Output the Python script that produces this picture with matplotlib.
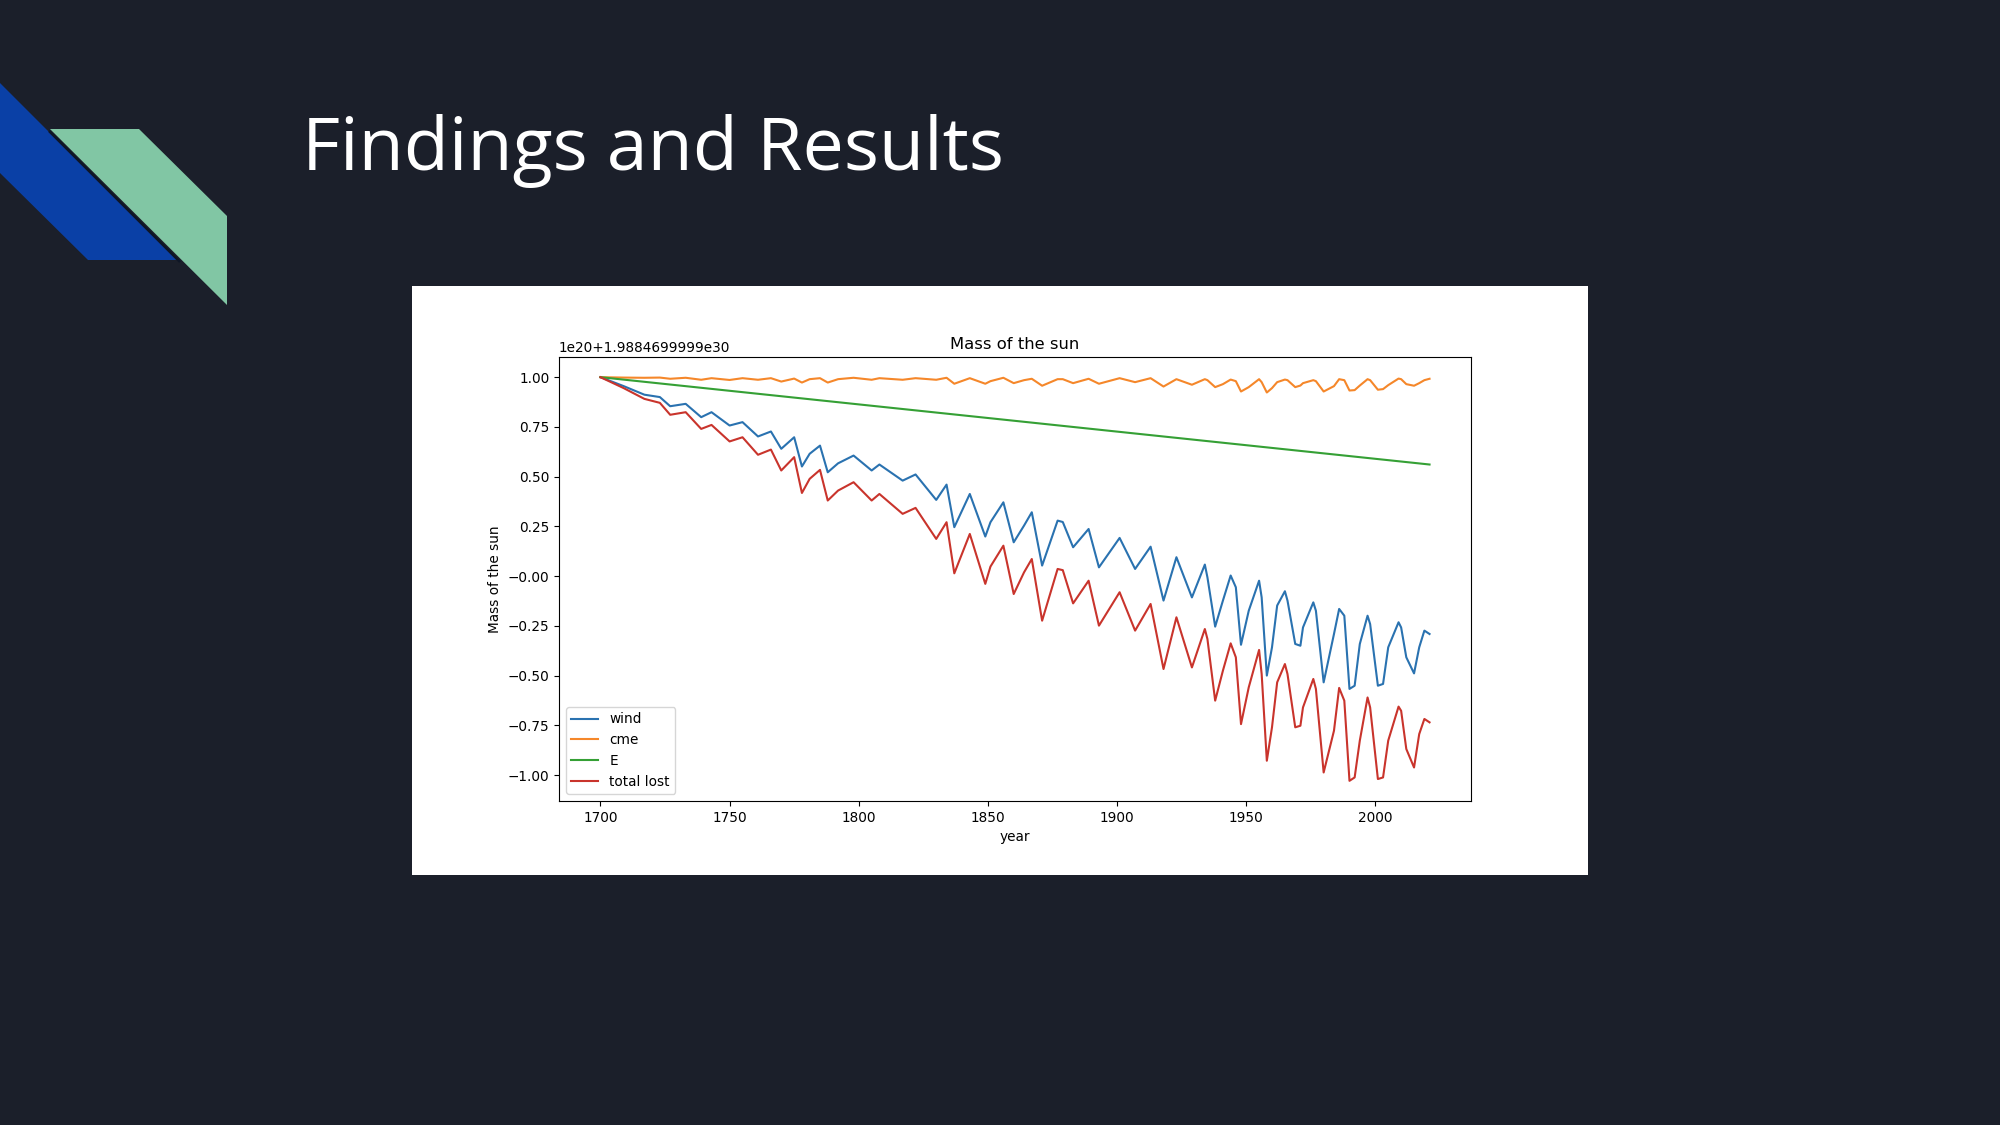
import matplotlib
matplotlib.use("Agg")
import matplotlib.pyplot as plt
from matplotlib.patches import Polygon, Rectangle

# values (units of 1e20 kg around 1.9884699999e30)
years = [1700, 1709, 1717, 1723, 1727, 1733, 1739, 1743, 1750, 1755,
         1761, 1766, 1770, 1775, 1778, 1781, 1785, 1788, 1792, 1798,
         1805, 1808, 1817, 1822, 1830, 1834, 1837, 1843, 1849, 1851,
         1856, 1860, 1864, 1867, 1871, 1877, 1879, 1883, 1889, 1893,
         1901, 1907, 1913, 1918, 1923, 1929, 1934, 1935, 1938, 1941,
         1944, 1946, 1948, 1951, 1955, 1956, 1958, 1960, 1962, 1965,
         1966, 1969, 1971, 1972, 1976, 1977, 1980, 1984, 1986, 1988,
         1990, 1992, 1994, 1997, 1998, 2001, 2003, 2005, 2009, 2010,
         2012, 2015, 2017, 2019, 2021]

wind = [1.000, 0.955, 0.912, 0.900, 0.854, 0.866, 0.799, 0.824, 0.757, 0.774,
        0.702, 0.727, 0.640, 0.698, 0.551, 0.615, 0.656, 0.522, 0.567, 0.606,
        0.531, 0.561, 0.480, 0.511, 0.383, 0.460, 0.246, 0.413, 0.199, 0.271,
        0.371, 0.170, 0.254, 0.321, 0.053, 0.279, 0.272, 0.145, 0.237, 0.044,
        0.192, 0.036, 0.148, -0.123, 0.095, -0.107, 0.058, -0.006, -0.254, -0.123,
        0.003, -0.056, -0.345, -0.174, -0.023, -0.107, -0.500, -0.358, -0.148, -0.076,
        -0.123, -0.341, -0.350, -0.258, -0.132, -0.174, -0.534, -0.291, -0.165, -0.199,
        -0.567, -0.551, -0.341, -0.199, -0.241, -0.551, -0.542, -0.358, -0.232, -0.258,
        -0.408, -0.489, -0.358, -0.274, -0.291]

cme = [1.000, 0.998, 0.997, 0.998, 0.992, 0.997, 0.987, 0.995, 0.986, 0.995,
       0.987, 0.995, 0.978, 0.993, 0.973, 0.990, 0.995, 0.973, 0.990, 0.997,
       0.987, 0.995, 0.987, 0.995, 0.987, 0.997, 0.967, 0.995, 0.967, 0.980,
       0.997, 0.970, 0.985, 0.992, 0.957, 0.990, 0.990, 0.970, 0.992, 0.967,
       0.995, 0.975, 0.995, 0.953, 0.990, 0.962, 0.990, 0.985, 0.950, 0.965,
       0.988, 0.980, 0.928, 0.950, 0.990, 0.975, 0.923, 0.945, 0.975, 0.988,
       0.985, 0.950, 0.958, 0.970, 0.985, 0.980, 0.928, 0.955, 0.990, 0.985,
       0.933, 0.935, 0.958, 0.990, 0.985, 0.937, 0.940, 0.960, 0.993, 0.990,
       0.965, 0.957, 0.970, 0.985, 0.992]

total = [1.000, 0.945, 0.891, 0.871, 0.811, 0.824, 0.740, 0.760, 0.677, 0.698,
         0.610, 0.636, 0.531, 0.598, 0.418, 0.489, 0.534, 0.380, 0.430, 0.472,
         0.380, 0.413, 0.313, 0.343, 0.187, 0.271, 0.014, 0.212, -0.039, 0.048,
         0.153, -0.090, 0.019, 0.086, -0.224, 0.036, 0.030, -0.137, -0.023, -0.249,
         -0.081, -0.274, -0.140, -0.467, -0.207, -0.459, -0.266, -0.316, -0.626, -0.475,
         -0.338, -0.408, -0.744, -0.559, -0.371, -0.492, -0.928, -0.760, -0.534, -0.442,
         -0.492, -0.760, -0.752, -0.660, -0.517, -0.567, -0.987, -0.777, -0.562, -0.626,
         -1.029, -1.012, -0.827, -0.610, -0.660, -1.020, -1.012, -0.827, -0.656, -0.677,
         -0.869, -0.962, -0.794, -0.718, -0.735]

e_years = [1700, 2021]
e_vals = [1.000, 0.561]

xticks = [1700, 1750, 1800, 1850, 1900, 1950, 2000]
yticks = [1.0, 0.75, 0.5, 0.25, 0.0, -0.25, -0.5, -0.75, -1.0]
ytick_labels = ["1.00", "0.75", "0.50", "0.25", "\u22120.00", "\u22120.25",
                "\u22120.50", "\u22120.75", "\u22121.00"]

W, H = 2000, 1125
fig = plt.figure(figsize=(20, 11.25), dpi=100)
fig.patch.set_facecolor("#1b1f2a")

# slide layer in pixel coordinates
bg = fig.add_axes([0, 0, 1, 1])
bg.set_xlim(0, W)
bg.set_ylim(H, 0)
bg.axis("off")

bg.add_patch(Polygon([(0, 83), (177, 260), (88, 260), (0, 173)],
                     closed=True, facecolor="#0a40a6", edgecolor="none"))
bg.plot([49, 180], [131, 262], color="#0e1626", lw=1.8, solid_capstyle="butt")
bg.add_patch(Polygon([(50, 129), (139, 129), (227, 216), (227, 305)],
                     closed=True, facecolor="#81c6a4", edgecolor="none"))

bg.text(302, 170, "Findings and Results", color="white", fontsize=53,
        family=["Open Sans", "DejaVu Sans"], ha="left", va="baseline")

bg.add_patch(Rectangle((412, 286), 1176, 589, facecolor="white", edgecolor="none"))

# the chart itself
ax = fig.add_axes([559 / W, 1 - 801 / H, 912 / W, 444 / H])
fs = 9.8
ax.plot(years, wind, color="#2a72b0", lw=1.5, label="wind")
ax.plot(years, cme, color="#f5872a", lw=1.5, label="cme")
ax.plot(e_years, e_vals, color="#35a035", lw=1.5, label="E")
ax.plot(years, total, color="#c9342c", lw=1.5, label="total lost")

ax.set_xticks(xticks)
ax.set_yticks(yticks)
ax.set_yticklabels(ytick_labels)
ax.tick_params(labelsize=fs, length=3.4, width=0.8)
ax.set_title("Mass of the sun", fontsize=11.8)
ax.set_xlabel("year", fontsize=fs)
ax.set_ylabel("Mass of the sun", fontsize=fs)
ax.text(0, 1.005, "1e20+1.9884699999e30", transform=ax.transAxes,
        ha="left", va="bottom", fontsize=fs)
ax.legend(loc="lower left", fontsize=fs)

fig.savefig("out.png", dpi=100, facecolor=fig.get_facecolor())
